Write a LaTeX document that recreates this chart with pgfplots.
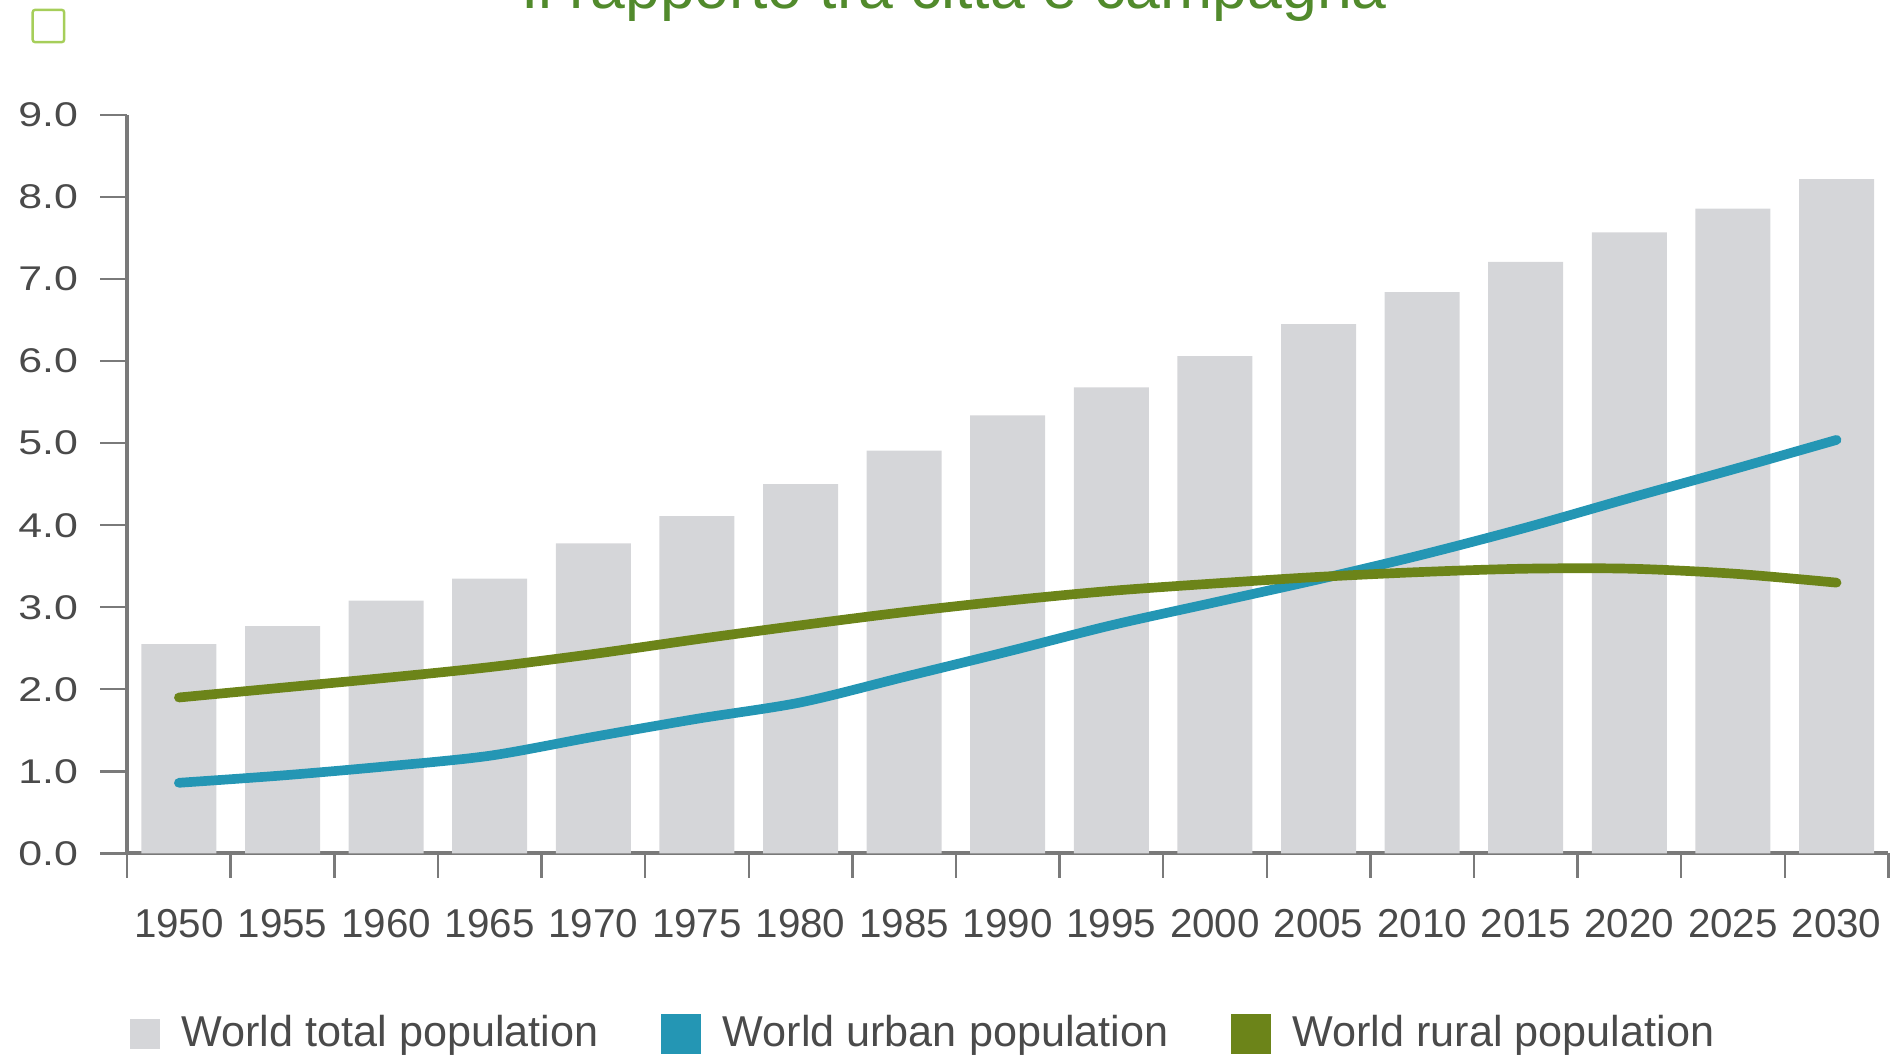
\documentclass[border=0pt]{standalone}
\usepackage{fontspec}
\setmainfont{Liberation Sans}
\newfontfamily\widefont{Liberation Sans}[FakeStretch=1.25]
\usepackage{pgfplots}
\pgfplotsset{compat=1.18}
\definecolor{barg}{HTML}{D5D6D9}
\definecolor{urban}{HTML}{2496B4}
\definecolor{rural}{HTML}{6C8419}
\definecolor{ttl}{HTML}{518A2C}
\definecolor{sq}{HTML}{A6CE5A}
\definecolor{axg}{HTML}{7A7A7A}
\definecolor{lbl}{HTML}{4A4A4A}
\begin{document}
\begin{tikzpicture}
\begin{axis}[
  scale only axis, width=436.5pt, height=183pt,
  at={(31.5pt,49.95pt)}, anchor=south west,
  xmin=-0.5, xmax=16.5, ymin=0, ymax=9,
  axis lines*=left,
  axis line style={axg, line width=1pt},
  tick align=outside,
  xtick={0,...,16},
  xticklabels={1950,1955,1960,1965,1970,1975,1980,1985,1990,1995,2000,2005,2010,2015,2020,2025,2030},
  major x tick style={draw=none},
  minor xtick={-0.5,0.5,...,16.5},
  minor x tick style={axg, line width=0.6pt},
  minor tick length=6pt,
  major tick length=6.6pt,
  ytick={0,...,9},
  yticklabels={0.0,1.0,2.0,3.0,4.0,5.0,6.0,7.0,8.0,9.0},
  major y tick style={axg, line width=0.6pt},
  xticklabel style={font=\fontsize{10}{12}\selectfont, text=lbl, inner sep=0pt, anchor=center, yshift=-10.8pt},
  yticklabel style={font=\widefont\fontsize{8.5}{10}\selectfont, text=lbl, inner sep=0pt, anchor=east, xshift=-5.4pt},
  legend columns=3,
  legend cell align=left,
  legend style={at={(axis description cs:0.0014,-0.245)}, anchor=west, draw=none, fill=none,
    inner sep=0pt, outer sep=0pt, nodes={inner sep=0pt, text=lbl, font=\fontsize{10.7}{12}\selectfont},
    /tikz/every odd column/.append style={column sep=5.4pt},
    /tikz/every even column/.append style={column sep=15.5pt}},
  clip=false,
]
\addplot[ybar, bar width=0.724, fill=barg, draw=none,
  legend image code/.code={\fill[barg] (0pt,-3.75pt) rectangle (7.5pt,3.75pt);}]
  coordinates {(0,2.55) (1,2.77) (2,3.08) (3,3.35) (4,3.78) (5,4.11) (6,4.50) (7,4.91) (8,5.34) (9,5.68) (10,6.06) (11,6.45) (12,6.84) (13,7.21) (14,7.57) (15,7.86) (16,8.22)};
\addlegendentry{World total population}
\addplot[urban, line width=2.4pt, smooth, line cap=round,
  legend image code/.code={\fill[urban] (0pt,-3.75pt) rectangle (7.5pt,3.75pt);}]
  coordinates {(0,0.86) (1,0.95) (2,1.06) (3,1.19) (4,1.42) (5,1.64) (6,1.84) (7,2.15) (8,2.46) (9,2.78) (10,3.06) (11,3.34) (12,3.64) (13,3.97) (14,4.33) (15,4.68) (16,5.04)};
\addlegendentry{World urban population}
\addplot[rural, line width=2.4pt, smooth, line cap=round,
  legend image code/.code={\fill[rural] (0pt,-3.75pt) rectangle (7.5pt,3.75pt);}]
  coordinates {(0,1.90) (1,2.02) (2,2.14) (3,2.27) (4,2.43) (5,2.61) (6,2.78) (7,2.94) (8,3.08) (9,3.20) (10,3.29) (11,3.37) (12,3.43) (13,3.47) (14,3.47) (15,3.41) (16,3.30)};
\addlegendentry{World rural population}
\end{axis}
\node[anchor=base, text=ttl, font=\fontsize{15.5}{18}\selectfont, inner sep=0pt] at (236.4pt,259.35pt) {Il rapporto tra città e campagna};
\draw[sq, line width=0.6pt, rounded corners=0.6pt] (8.1pt,251pt) rectangle (15.9pt,259pt);
\pgfresetboundingbox
\path[use as bounding box] (0,0) rectangle (470.4pt,261.45pt);
\end{tikzpicture}
\end{document}
